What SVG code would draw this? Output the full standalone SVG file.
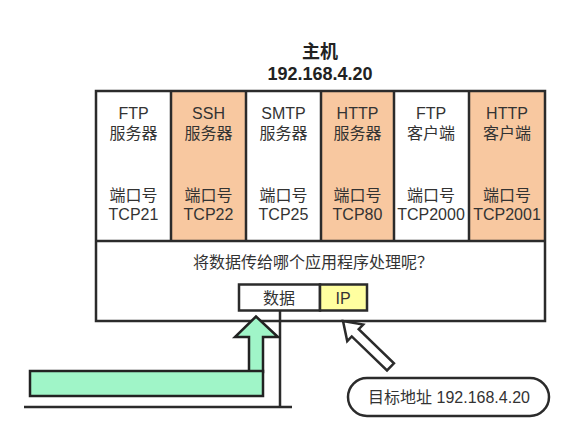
<svg xmlns="http://www.w3.org/2000/svg" width="571" height="432" viewBox="0 0 571 432">
<style>
text{font-family:"Liberation Sans","Noto Sans CJK SC",sans-serif;fill:#333;font-size:16px;text-anchor:middle}
.t{font-weight:bold;font-size:18px;fill:#222}
.ln{stroke:#2b2b2b;stroke-width:2.5;fill:none}
.org{fill:#f8c8a0}
.wht{fill:#fff}
</style>
<rect width="571" height="432" fill="#fff"/>
<g id="host-title">
<text class="t" x="320" y="58">主机</text>
<text class="t" x="320" y="80" font-size="20">192.168.4.20</text>
</g>
<g id="host">
<rect x="96" y="91" width="449" height="230" fill="#fff"/>
</g>
<g id="col-ftp-server">
<rect class="wht" x="96" y="91" width="75" height="150"/>
<text x="133.5" y="119">FTP</text><text x="133.5" y="139">服务器</text>
<text x="133.5" y="201">端口号</text><text x="133.5" y="220">TCP21</text>
</g>
<g id="col-ssh-server">
<rect class="org" x="171" y="91" width="75" height="150"/>
<text x="208.5" y="119">SSH</text><text x="208.5" y="139">服务器</text>
<text x="208.5" y="201">端口号</text><text x="208.5" y="220">TCP22</text>
</g>
<g id="col-smtp-server">
<rect class="wht" x="246" y="91" width="75" height="150"/>
<text x="283.5" y="119">SMTP</text><text x="283.5" y="139">服务器</text>
<text x="283.5" y="201">端口号</text><text x="283.5" y="220">TCP25</text>
</g>
<g id="col-http-server">
<rect class="org" x="321" y="91" width="73" height="150"/>
<text x="357.5" y="119">HTTP</text><text x="357.5" y="139">服务器</text>
<text x="357.5" y="201">端口号</text><text x="357.5" y="220">TCP80</text>
</g>
<g id="col-ftp-client">
<rect class="wht" x="394" y="91" width="75" height="150"/>
<text x="431" y="119">FTP</text><text x="431" y="139">客户端</text>
<text x="431" y="201">端口号</text><text x="431" y="220">TCP2000</text>
</g>
<g id="col-http-client">
<rect class="org" x="469" y="91" width="76" height="150"/>
<text x="507" y="119">HTTP</text><text x="507" y="139">客户端</text>
<text x="507" y="201">端口号</text><text x="507" y="220">TCP2001</text>
</g>
<g id="host-lines">
<rect class="ln" x="96" y="91" width="449" height="230"/>
<line class="ln" x1="96" y1="241" x2="545" y2="241"/>
<line class="ln" x1="171" y1="91" x2="171" y2="241"/>
<line class="ln" x1="246" y1="91" x2="246" y2="241"/>
<line class="ln" x1="321" y1="91" x2="321" y2="241"/>
<line class="ln" x1="394" y1="91" x2="394" y2="241"/>
<line class="ln" x1="469" y1="91" x2="469" y2="241"/>
<text x="313" y="268">将数据传给哪个应用程序处理呢？</text>
</g>
<g id="packet">
<rect x="239" y="284.5" width="81" height="26" fill="#fff" stroke="#2b2b2b" stroke-width="2.5"/>
<rect x="320" y="284.5" width="47" height="26" fill="#ffffa0" stroke="#2b2b2b" stroke-width="2.5"/>
<text x="279" y="304">数据</text>
<text x="343" y="304">IP</text>
</g>
<g id="connectors">
<polyline class="ln" points="280,310.5 280,407"/>
<line class="ln" x1="24" y1="407" x2="292" y2="407"/>
<polygon points="249,372 249,337 235,337 256,316.5 278,337 263,337 263,372" fill="#a0f5c8" stroke="#222" stroke-width="2.5" stroke-linejoin="miter"/>
<rect x="30" y="371" width="233" height="25" fill="#a0f5c8" stroke="#222" stroke-width="2.5"/>
<polygon transform="translate(343,321) rotate(44)" points="0,0 17,-11.5 17,-5 66,-5 66,5 17,5 17,11.5" fill="#fff" stroke="#2b2b2b" stroke-width="2.5"/>
</g>
<g id="dest-label">
<rect x="348" y="378" width="201" height="38" rx="19" fill="#fff" stroke="#2b2b2b" stroke-width="2.5"/>
<text x="449" y="403">目标地址 192.168.4.20</text>
</g>
</svg>
